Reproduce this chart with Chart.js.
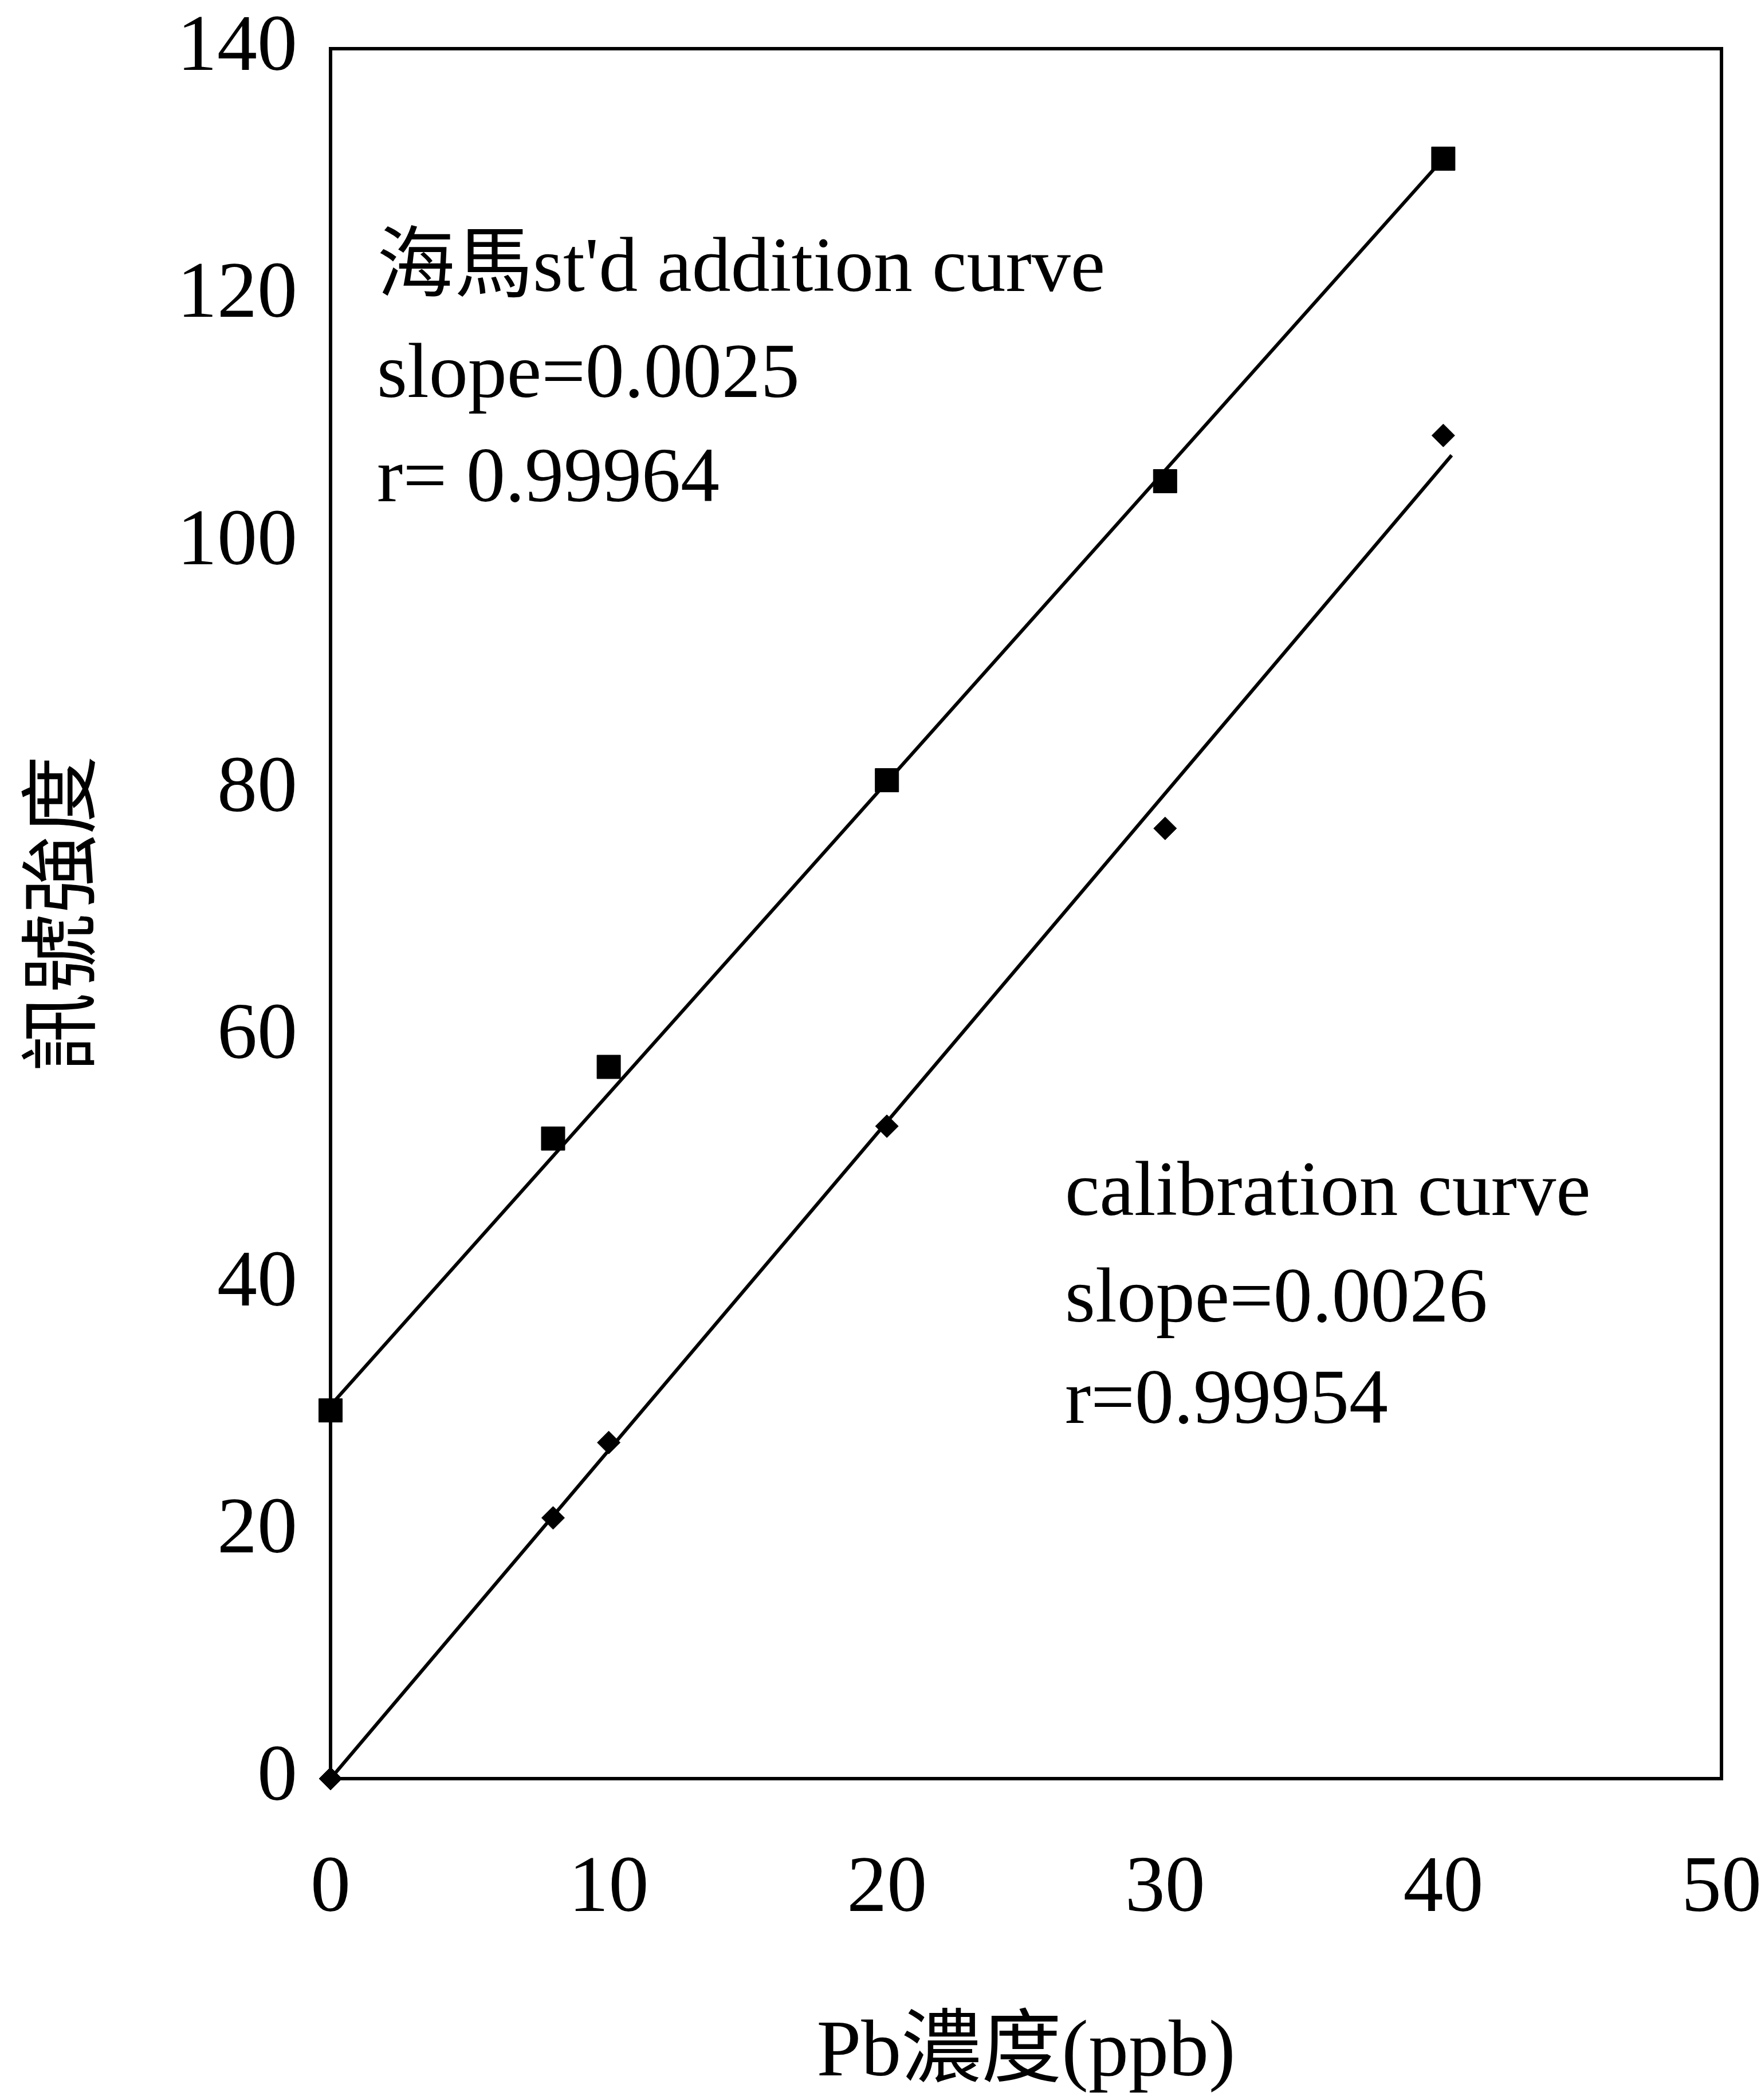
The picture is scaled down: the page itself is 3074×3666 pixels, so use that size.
<!DOCTYPE html>
<html>
<head>
<meta charset="utf-8">
<script src="https://cdn.jsdelivr.net/npm/chart.js@4/dist/chart.umd.min.js"></script>
<style>
  html, body { margin: 0; padding: 0; background: #ffffff; }
  #wrap { width: 3074px; height: 3666px; }
</style>
</head>
<body>
<div id="wrap"><canvas id="c" width="3074" height="3666"></canvas></div>
<script>
// Pb concentration (ppb) of each measured solution
const concentrations = [0, 8, 10, 20, 30, 40];
// Signal intensity, standard addition on the 海馬 sample
const additionSignal = [29.8, 51.8, 57.6, 80.8, 105.0, 131.1];
// Signal intensity, calibration standards
const calibrationSignal = [0, 21.1, 27.2, 52.8, 76.9, 108.7];

// End points of the two fitted lines
const additionFitX = [0, 40];
const additionFitY = [30.2, 131.1];
const calibrationFitX = [0, 40.3];
const calibrationFitY = [0, 107.1];

// Axis ticks
const xTicks = [0, 10, 20, 30, 40, 50];
const yTicks = [0, 20, 40, 60, 80, 100, 120, 140];

// Text blocks placed in data units (x, baseline y)
const additionNotes = ["海馬st'd addition curve", "slope=0.0025", "r= 0.99964"];
const additionNoteX = 1.67;
const additionNoteY = [120.4, 111.8, 103.4];
const calibrationNotes = ["calibration curve", "slope=0.0026", "r=0.99954"];
const calibrationNoteX = 26.4;
const calibrationNoteY = [45.6, 37.0, 28.8];

const FONT = "'Liberation Serif', 'Noto Sans CJK TC', serif";

const toPoints = (xs, ys) => xs.map((x, i) => ({ x: x, y: ys[i] }));

// Keep the plotting area fixed: no extra room reserved for edge labels
function fixScale(scale, size) {
  if (scale.isHorizontal()) scale.height = size; else scale.width = size;
  scale.paddingLeft = 0;
  scale.paddingRight = 0;
  scale.paddingTop = 0;
  scale.paddingBottom = 0;
}

// Frame around the plotting area
const framePlugin = {
  id: 'frame',
  beforeDatasetsDraw(chart) {
    const { ctx, chartArea: a } = chart;
    ctx.save();
    ctx.strokeStyle = '#000';
    ctx.lineWidth = 6;
    ctx.strokeRect(a.left, a.top, a.right - a.left, a.bottom - a.top);
    ctx.restore();
  }
};

// Fit annotations
const notesPlugin = {
  id: 'notes',
  afterDatasetsDraw(chart) {
    const { ctx, scales: { x, y } } = chart;
    ctx.save();
    ctx.fillStyle = '#000';
    ctx.font = '136px ' + FONT;
    ctx.textAlign = 'left';
    ctx.textBaseline = 'alphabetic';
    additionNotes.forEach((t, i) => {
      ctx.fillText(t, x.getPixelForValue(additionNoteX), y.getPixelForValue(additionNoteY[i]));
    });
    calibrationNotes.forEach((t, i) => {
      ctx.fillText(t, x.getPixelForValue(calibrationNoteX), y.getPixelForValue(calibrationNoteY[i]));
    });
    ctx.restore();
  }
};

new Chart(document.getElementById('c'), {
  type: 'scatter',
  data: {
    datasets: [
      {
        type: 'line',
        data: toPoints(additionFitX, additionFitY),
        borderColor: '#000',
        borderWidth: 6,
        pointRadius: 0,
        fill: false,
        clip: false
      },
      {
        type: 'line',
        data: toPoints(calibrationFitX, calibrationFitY),
        borderColor: '#000',
        borderWidth: 6,
        pointRadius: 0,
        fill: false,
        clip: false
      },
      {
        data: toPoints(concentrations, additionSignal),
        pointStyle: 'rect',
        pointRadius: 29,
        backgroundColor: '#000',
        borderColor: '#000',
        borderWidth: 1,
        clip: false
      },
      {
        data: toPoints(concentrations, calibrationSignal),
        pointStyle: 'rectRot',
        pointRadius: 20,
        backgroundColor: '#000',
        borderColor: '#000',
        borderWidth: 1,
        clip: false
      }
    ]
  },
  options: {
    responsive: false,
    devicePixelRatio: 1,
    animation: false,
    events: [],
    layout: { autoPadding: false, padding: { top: 85, right: 69, left: 0, bottom: 0 } },
    plugins: { legend: { display: false }, tooltip: { enabled: false } },
    scales: {
      x: {
        type: 'linear',
        min: 0,
        max: 50,
        afterBuildTicks(scale) { scale.ticks = xTicks.map(v => ({ value: v })); },
        afterFit(scale) { fixScale(scale, 561); },
        grid: { display: false, drawTicks: false, tickLength: 0 },
        border: { display: false },
        ticks: {
          padding: 110,
          color: '#000',
          font: { family: FONT, size: 140 },
          maxRotation: 0,
          autoSkip: false
        },
        title: {
          display: true,
          text: 'Pb濃度(ppb)',
          color: '#000',
          font: { family: FONT, size: 140, lineHeight: 1.0 },
          padding: { top: 0, bottom: 10 }
        }
      },
      y: {
        type: 'linear',
        min: 0,
        max: 140,
        afterBuildTicks(scale) { scale.ticks = yTicks.map(v => ({ value: v })); },
        afterFit(scale) { fixScale(scale, 577); },
        grid: { display: false, drawTicks: false, tickLength: 0 },
        border: { display: false },
        ticks: {
          padding: 58,
          color: '#000',
          font: { family: FONT, size: 140 },
          autoSkip: false
        },
        title: {
          display: true,
          text: '訊號強度',
          color: '#000',
          font: { family: FONT, size: 138, lineHeight: 1.0 },
          padding: { top: 49, bottom: 0 }
        }
      }
    }
  },
  plugins: [framePlugin, notesPlugin]
});
</script>
</body>
</html>
